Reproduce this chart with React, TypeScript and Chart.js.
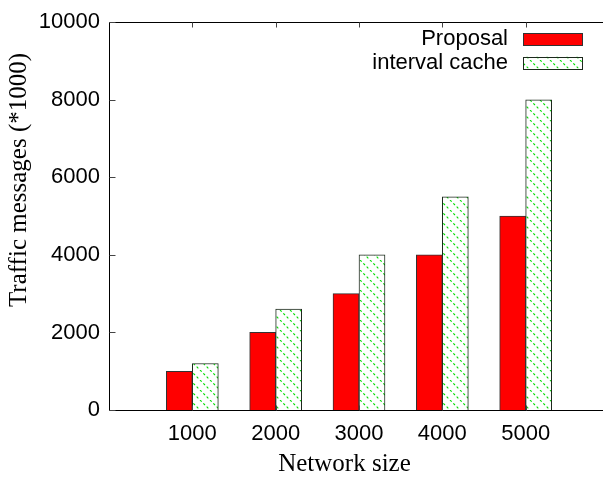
import React, { useEffect, useRef } from "react";
import { Chart, registerables } from "chart.js";

Chart.register(...registerables);

const categories = [1000, 2000, 3000, 4000, 5000];
const proposal = [1000, 2000, 3000, 4000, 5000];
const intervalCache = [1200, 2600, 4000, 5500, 8000];
const yTicks = [0, 2000, 4000, 6000, 8000, 10000];
const seriesLabels = ["Proposal", "interval cache"];
const xTitle = "Network size";
const yTitle = "Traffic messages (*1000)";

const SANS = "'Liberation Sans', Arial, sans-serif";
const SERIF = "'Liberation Serif', 'Times New Roman', serif";

function makeHatch(): CanvasPattern | string {
  const s = 10;
  const c = document.createElement("canvas");
  c.width = s;
  c.height = s;
  const g = c.getContext("2d");
  if (!g) return "#ffffff";
  g.fillStyle = "#ffffff";
  g.fillRect(0, 0, s, s);
  g.strokeStyle = "#00dd00";
  g.lineWidth = 1.1;
  const d = Math.sqrt(2) * s / 6;
  g.setLineDash([d, d]);
  for (const off of [-s, 0, s]) {
    g.beginPath();
    g.moveTo(off, 0);
    g.lineTo(off + s, s);
    g.stroke();
  }
  const p = g.createPattern(c, "repeat");
  return p || "#ffffff";
}

const framePlugin = {
  id: "gnuFrame",
  afterDatasetsDraw(chart: any) {
    const { ctx, chartArea } = chart;
    const { left, right, top, bottom } = chartArea;
    const xs = chart.scales.x;
    const ys = chart.scales.y;
    ctx.save();
    ctx.strokeStyle = "#000";
    ctx.lineWidth = 1;
    const L = Math.round(left) + 0.5;
    const R = Math.round(right) + 0.5;
    const T = Math.round(top) + 0.5;
    const B = Math.round(bottom) + 0.5;
    ctx.beginPath();
    ctx.moveTo(R, T);
    ctx.lineTo(L, T);
    ctx.lineTo(L, B);
    ctx.lineTo(R, B);
    ctx.stroke();
    ctx.strokeStyle = "#444";
    ctx.beginPath();
    for (const c of categories) {
      const px = Math.round(xs.getPixelForValue(c)) + 0.5;
      ctx.moveTo(px, T);
      ctx.lineTo(px, T + 5);
      ctx.moveTo(px, B);
      ctx.lineTo(px, B - 5);
    }
    for (const v of yTicks) {
      const py = Math.round(ys.getPixelForValue(v)) + 0.5;
      ctx.moveTo(L, py);
      ctx.lineTo(L + 6, py);
    }
    ctx.stroke();

    // legend
    ctx.font = `22px ${SANS}`;
    ctx.fillStyle = "#000";
    ctx.textAlign = "right";
    ctx.textBaseline = "middle";
    const rows = [39, 62.5];
    chart.data.datasets.forEach((ds: any, i: number) => {
      const cy = rows[i];
      ctx.fillText(ds.label, 508, cy);
      ctx.fillStyle = ds.backgroundColor;
      ctx.fillRect(523, cy - 6, 59, 12);
      ctx.strokeStyle = ds.borderColor;
      ctx.strokeRect(523.5, Math.round(cy - 6) + 0.5, 59, 12);
      ctx.fillStyle = "#000";
    });

    // axis titles
    ctx.font = `25px ${SERIF}`;
    ctx.textAlign = "center";
    ctx.textBaseline = "middle";
    ctx.fillText(xTitle, 344.5, 464);
    ctx.translate(19, 180);
    ctx.rotate(-Math.PI / 2);
    ctx.fillText(yTitle, 0, 0);
    ctx.restore();
  },
};

export default function App() {
  const ref = useRef<HTMLCanvasElement | null>(null);
  useEffect(() => {
    if (!ref.current) return;
    const hatch = makeHatch();
    const chart = new Chart(ref.current, {
      type: "bar",
      data: {
        datasets: [
          {
            label: seriesLabels[0],
            data: categories.map((c, i) => ({ x: c, y: proposal[i] })),
            backgroundColor: "#ff0000",
            borderColor: "#333333",
            borderWidth: 1,
            barThickness: 26,
          },
          {
            label: seriesLabels[1],
            data: categories.map((c, i) => ({ x: c, y: intervalCache[i] })),
            backgroundColor: hatch as any,
            borderColor: "#1c2a1c",
            borderWidth: 1,
            barThickness: 26,
          },
        ],
      },
      options: {
        animation: false,
        responsive: false,
        layout: { padding: { left: 0, right: 9, top: 21, bottom: 0 } },
        plugins: {
          legend: { display: false },
          tooltip: { enabled: false },
        },
        scales: {
          x: {
            type: "linear",
            min: 0,
            max: 6000,
            offset: false,
            grid: { display: false, drawTicks: false, offset: false },
            border: { display: false },
            ticks: {
              stepSize: 1000,
              autoSkip: false,
              maxRotation: 0,
              padding: 11,
              color: "#000",
              font: { family: SANS, size: 22 },
              callback: (v: any) => (categories.includes(Number(v)) ? String(v) : ""),
            },
            afterFit: (s: any) => {
              s.height = 67;
            },
          },
          y: {
            min: 0,
            max: 10000,
            grid: { display: false, drawTicks: false },
            border: { display: false },
            ticks: {
              stepSize: 2000,
              padding: 9,
              color: "#000",
              font: { family: SANS, size: 22 },
              callback: (v: any) => (yTicks.includes(Number(v)) ? String(v) : ""),
            },
            afterFit: (s: any) => {
              s.width = 109;
            },
          },
        },
      },
      plugins: [framePlugin],
    });
    return () => chart.destroy();
  }, []);
  return (
    <div
      style={{
        position: "fixed",
        left: 0,
        top: 0,
        width: 603,
        height: 477,
        overflow: "hidden",
        background: "#fff",
      }}
    >
      <canvas ref={ref} width={620} height={477} style={{ display: "block" }} />
    </div>
  );
}
